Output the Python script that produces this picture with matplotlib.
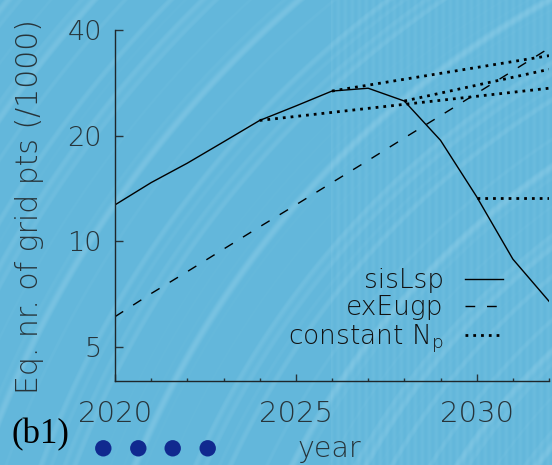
import numpy as np
import matplotlib
matplotlib.use("Agg")
import matplotlib.pyplot as plt
from matplotlib.patches import Circle
from matplotlib import font_manager as fm

# ---- data ----
years = [2020, 2021, 2022, 2023, 2024, 2025, 2026, 2027, 2028, 2029, 2030, 2031, 2032]
sislsp = [12.7, 14.7, 16.7, 19.2, 22.1, 24.3, 26.8, 27.3, 25.1, 19.4, 13.4, 8.9, 6.75]
exeugp = [6.1, 7.1, 8.2, 9.5, 11.0, 12.7, 14.7, 17.0, 19.7, 22.8, 26.4, 30.6, 35.5]

const_a_years = [2024, 2032]
const_a_vals = [22.1, 27.3]
const_b_years = [2026, 2032]
const_b_vals = [26.8, 33.8]
const_c_years = [2028, 2032]
const_c_vals = [25.1, 30.9]
const_d_years = [2030, 2032]
const_d_vals = [13.3, 13.3]

yticks = [5, 10, 20, 40]
ytick_labels = ["5", "10", "20", "40"]
xticks = [2020, 2025, 2030]
xtick_labels = ["2020", "2025", "2030"]

# ---- style: pick a thin sans face if one is installed ----
thin_faces = [(f.name, f.weight) for f in fm.fontManager.ttflist]
face, weight = "DejaVu Sans", "normal"
for name in ["DejaVu Sans", "Open Sans", "Noto Sans", "Lato", "Roboto"]:
    ws = [w for n, w in thin_faces if n == name and isinstance(w, int) and w <= 300]
    if ws:
        face, weight = name, max(ws)
        break

plt.rcParams["font.family"] = [face, "DejaVu Sans"]
plt.rcParams["font.weight"] = weight
plt.rcParams["axes.labelweight"] = weight
plt.rcParams["mathtext.default"] = "regular"
plt.rcParams["lines.scale_dashes"] = False
W, H = 552, 465
fig = plt.figure(figsize=(W / 100, H / 100), dpi=100)

# textured blue backdrop with soft curved light streaks
yy, xx = np.mgrid[0:H, 0:W].astype(float)
r = np.hypot(xx - 1000.0, yy - 820.0)
wave = (0.45 * np.sin(2 * np.pi * r / 29.0)
        + 0.35 * np.sin(2 * np.pi * r / 11.0 + 1.3)
        + 0.40 * np.sin(2 * np.pi * r / 71.0 + 0.4))
streak = np.clip(wave - 0.2, 0, None) / 1.0
grain = 0.10 * (0.5 + 0.5 * np.sin(2 * np.pi * xx / 7.0)) * (xx > 330)
t = np.clip(0.30 * streak + grain, 0, 1)
base = np.array([0.39, 0.72, 0.86])
light = np.array([0.66, 0.86, 0.94])
img = base[None, None, :] + t[..., None] * (light - base)[None, None, :]
bg = fig.add_axes([0, 0, 1, 1], zorder=-10)
bg.imshow(img, extent=[0, 1, 0, 1], aspect="auto", origin="upper", interpolation="bilinear")
bg.set_axis_off()

ax = fig.add_axes([115 / W, 1 - 381 / H, 434 / W, 351 / H])
ax.set_facecolor("none")

lw = 1.0
l1, = ax.plot(years, sislsp, color="black", lw=lw, label="sisLsp")
l2, = ax.plot(years, exeugp, color="black", lw=lw, linestyle=(0, (7.0, 8.5)), label="exEugp")
dot_style = dict(color="black", lw=2.0, linestyle=(0, (2.0, 3.6)), dash_capstyle="butt")
l3, = ax.plot(const_a_years, const_a_vals, label=r"constant N$_{p}$", **dot_style)
ax.plot(const_b_years, const_b_vals, **dot_style)
ax.plot(const_c_years, const_c_vals, **dot_style)
ax.plot(const_d_years, const_d_vals, **dot_style)

ax.set_yscale("log")
ax.set_ylim(4, 40)
ax.set_xlim(2020, 2032)
ax.yaxis.set_major_locator(matplotlib.ticker.FixedLocator(yticks))
ax.yaxis.set_major_formatter(matplotlib.ticker.FixedFormatter(ytick_labels))
ax.yaxis.set_minor_locator(matplotlib.ticker.NullLocator())
ax.set_xticks(xticks)
ax.set_xticklabels(xtick_labels)
ax.set_xticks(range(2020, 2033), minor=True)

tick_col = "#27343a"
ax.tick_params(axis="y", which="major", direction="in", length=6, width=1.0,
               pad=9.5, labelsize=19.5, colors=tick_col)
ax.tick_params(axis="x", which="major", direction="in", length=5, width=1.0,
               pad=14, labelsize=21, colors=tick_col)
ax.tick_params(axis="x", which="minor", direction="in", length=2.4, width=1.0, colors=tick_col)
for s in ["top", "right"]:
    ax.spines[s].set_visible(False)
for s in ["left", "bottom"]:
    ax.spines[s].set_linewidth(1.0)
    ax.spines[s].set_color("#1e272b")

ax.set_ylabel("Eq. nr. of grid pts (/1000)", fontsize=21.5, color=tick_col, va="center")
ax.yaxis.set_label_coords((30 - 115) / 434, (381 - 206) / 351)
ax.set_xlabel("year", fontsize=20.5, color=tick_col, va="baseline")
ax.xaxis.set_label_coords((329 - 115) / 434, (381 - 456.7) / 351)

leg = ax.legend(handles=[l1, l2, l3], loc="upper right",
                bbox_to_anchor=(503 / W, 1 - 268 / H), bbox_transform=fig.transFigure,
                frameon=False, markerfirst=False, handlelength=1.45, handletextpad=0.8,
                labelspacing=0.08, borderpad=0, borderaxespad=0, fontsize=19)
for txt in leg.get_texts():
    txt.set_color("#111111")

fig.text(40 / W, 1 - 435 / H, "(b1)", family="Liberation Serif", fontsize=25,
         fontweight="normal", ha="center", va="center", color="black")

for cx in [103.3, 138.3, 172.7, 207.7]:
    fig.add_artist(Circle((cx / 100, (H - 448.3) / 100), 8.2 / 100,
                          transform=fig.dpi_scale_trans, color="#10298f", lw=0))

fig.savefig("out.png", dpi=100)
